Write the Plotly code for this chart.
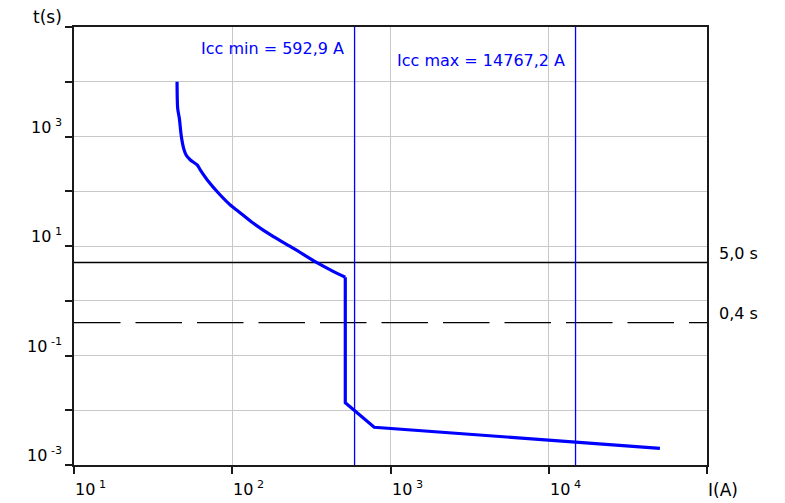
import math
import plotly.graph_objects as go

# Time-current tripping curve of the protective device:
# long-time (thermal) part, then the instantaneous (magnetic) step and tail
thermal_current = [44.8, 45.2, 46.3, 47.7, 49.3, 51.1, 54.4, 60.0, 62.9, 71.0,
                   82.0, 97.2, 110, 136, 182, 244, 343, 437, 518]
thermal_time = [10000, 3270, 2150, 990, 608, 459, 372, 302, 244, 149,
                91.8, 56.1, 42.4, 26.0, 14.8, 9.08, 4.95, 3.40, 2.68]
magnetic_current = [518, 518, 789, 50400]
magnetic_time = [2.68, 0.0137, 0.00489, 0.00202]

# Short-circuit currents (A)
icc_values = [592.9, 14767.2]
icc_labels = ["Icc min = 592,9 A", "Icc max = 14767,2 A"]
icc_label_offsets = [-21, -33]

# Disconnection time limits (s)
t_limits = [5.0, 0.4]
t_limit_labels = ["5,0 s", "0,4 s"]
t_limit_dash = ["solid", "46.5px,15px"]

# Decade ticks and labelled exponents
x_decades = [1, 2, 3, 4, 5]
x_label_exps = [1, 2, 3, 4]
y_decades = [-3, -2, -1, 0, 1, 2, 3, 4, 5]
y_label_exps = [3, 1, -1, -3]

FONT = "DejaVu Sans"
BLUE = "#0000ff"
AXIS = "#1a1a1a"


def pow10_label(e):
    return "10<sup>\u00a0" + str(e) + "</sup>"


fig = go.Figure()

for i, t in enumerate(t_limits):
    fig.add_trace(go.Scatter(
        x=[10 ** x_decades[0], 10 ** x_decades[-1]], y=[t, t], mode="lines",
        line=dict(color="black", width=1.3, dash=t_limit_dash[i]),
        hoverinfo="skip", showlegend=False))

for v in icc_values:
    fig.add_trace(go.Scatter(
        x=[v, v], y=[10 ** y_decades[0], 10 ** y_decades[-1]], mode="lines",
        line=dict(color=BLUE, width=1.3), hoverinfo="skip", showlegend=False))

fig.add_trace(go.Scatter(
    x=thermal_current, y=thermal_time, mode="lines",
    line=dict(color=BLUE, width=3.2, shape="spline", smoothing=0.8),
    showlegend=False))
fig.add_trace(go.Scatter(
    x=magnetic_current, y=magnetic_time, mode="lines",
    line=dict(color=BLUE, width=3.2), showlegend=False))

annotations = []
for e in x_label_exps:
    annotations.append(dict(
        x=e, xref="x", y=0, yref="paper", xanchor="left", yanchor="top",
        xshift=-1, yshift=-11, text=pow10_label(e), showarrow=False,
        font=dict(family=FONT, size=16, color="black")))
for e in y_label_exps:
    annotations.append(dict(
        x=0, xref="paper", y=e, yref="y", xanchor="right", yanchor="bottom",
        xshift=-10, yshift=-2, text=pow10_label(e), showarrow=False,
        font=dict(family=FONT, size=16, color="black")))
for v, lab, off in zip(icc_values, icc_labels, icc_label_offsets):
    annotations.append(dict(
        x=math.log10(v), xref="x", y=1, yref="paper", xanchor="right",
        yanchor="middle", xshift=-9, yshift=off, text=lab, showarrow=False,
        font=dict(family=FONT, size=16, color=BLUE)))
for t, lab in zip(t_limits, t_limit_labels):
    annotations.append(dict(
        x=1, xref="paper", y=math.log10(t), yref="y", xanchor="left",
        yanchor="middle", xshift=10, yshift=9, text=lab, showarrow=False,
        font=dict(family=FONT, size=16, color="black")))
annotations.append(dict(
    x=0, xref="paper", y=1, yref="paper", xanchor="center", yanchor="middle",
    xshift=-27, yshift=10, text="t(s)", showarrow=False,
    font=dict(family=FONT, size=17, color="black")))
annotations.append(dict(
    x=1, xref="paper", y=0, yref="paper", xanchor="left", yanchor="middle",
    xshift=-1, yshift=-25, text="I(A)", showarrow=False,
    font=dict(family=FONT, size=17, color="black")))

axis_common = dict(
    type="log", showgrid=True, gridcolor="#c8c8c8", gridwidth=1,
    showline=True, linecolor=AXIS, linewidth=2, mirror=True,
    ticks="outside", ticklen=7, tickwidth=1.5, tickcolor=AXIS,
    showticklabels=False, zeroline=False)

fig.update_layout(
    width=785, height=503,
    margin=dict(l=74, r=78, t=27, b=38),
    paper_bgcolor="white", plot_bgcolor="white",
    xaxis=dict(range=[x_decades[0], x_decades[-1]],
               tickvals=[10 ** d for d in x_decades], **axis_common),
    yaxis=dict(range=[y_decades[0], y_decades[-1]],
               tickvals=[10 ** d for d in y_decades], **axis_common),
    annotations=annotations,
    font=dict(family=FONT),
)

fig.write_html("out.html", config={"displayModeBar": False})
